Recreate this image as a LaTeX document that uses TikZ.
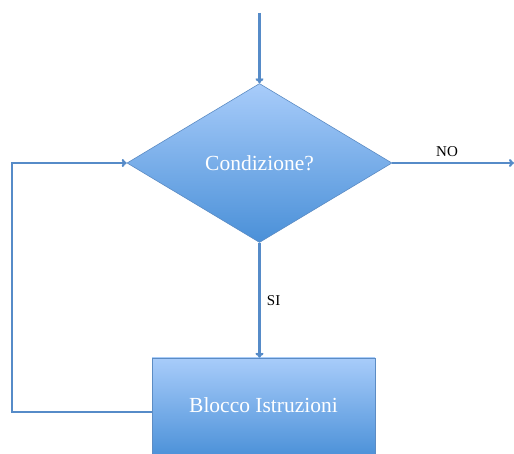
\documentclass[tikz,border=0pt]{standalone}
\usepackage{fontspec}
\setmainfont{Liberation Serif}
\usetikzlibrary{shapes.geometric,arrows.meta,calc}
\definecolor{flowline}{RGB}{86,139,200}
\definecolor{shapeedge}{RGB}{92,140,196}
\definecolor{fillTop}{RGB}{168,204,250}
\definecolor{fillBot}{RGB}{74,144,216}
\tikzset{
  x=1pt, y=1pt,
  conn/.style={draw=flowline, line width=2.2pt, -{To[length=5pt,width=8pt]}},
  decision/.style={diamond, draw=shapeedge, line width=0.6pt, top color=fillTop, bottom color=fillBot,
    minimum width=265pt, minimum height=159pt, aspect=1.667, inner sep=0pt,
    text=white, font=\fontsize{21.5}{24}\selectfont},
  process/.style={rectangle, draw=shapeedge, line width=0.6pt, top color=fillTop, bottom color=fillBot,
    minimum width=223pt, minimum height=100pt, inner sep=0pt,
    text=white, font=\fontsize{21.5}{24}\selectfont},
  tag/.style={font=\fontsize{15}{17}\selectfont, text=black}
}
\begin{document}
\begin{tikzpicture}
\useasboundingbox (0,0) rectangle (514,454);
\clip (0,0) rectangle (514,454);
% flow shapes
\node[decision] (cond) at (259.5,291) {Condizione?};
\node[process] (blk) at (263.5,46) {\raisebox{5pt}{Blocco Istruzioni}};
% endpoints of the open connectors
\coordinate (start) at (259.5,441);
\coordinate (exit) at (514,291);
% connectors
\draw[conn] (start) -- (cond.north);
\draw[conn] (cond.east) -- (exit) node[tag, pos=0.45, above=2pt] {NO};
\draw[conn] (cond.south) -- (cond.south |- blk.north) node[tag, midway, right=3pt] {SI};
\draw[conn] ([yshift=-4pt]blk.west) -- ++(-140,0) |- (cond.west);
\end{tikzpicture}
\end{document}
